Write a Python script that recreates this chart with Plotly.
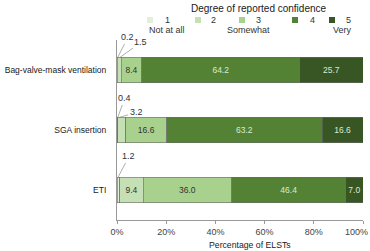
import plotly.graph_objects as go

categories = ["ETI", "SGA insertion", "Bag-valve-mask ventilation"]
levels = ["1", "2", "3", "4", "5"]
level_desc = ["Not at all", "", "Somewhat", "", "Very"]
# values per level, order matches categories (ETI, SGA, BVM)
lvl1 = [1.2, 0.4, 0.2]
lvl2 = [9.4, 3.2, 1.5]
lvl3 = [36.0, 16.6, 8.4]
lvl4 = [46.4, 63.2, 64.2]
lvl5 = [7.0, 16.6, 25.7]
series = [lvl1, lvl2, lvl3, lvl4, lvl5]
x_ticks = [0, 20, 40, 60, 80, 100]
x_ticklabels = ["0%", "20%", "40%", "60%", "80%", ""]
last_ticklabel = "100%"

colors = ["#e2efda", "#c5e0b4", "#a9d18e", "#548235", "#375623"]
text_colors = ["#333333", "#333333", "#333333", "#d9ead0", "#d9ead0"]
FONT = "Arial"

W, H = 370, 251
ML, MR, MT, MB = 117, 7, 40, 31
PW, PH = W - ML - MR, H - MT - MB

def px(xp):
    return (xp - ML) / PW

def py(yp):
    return (H - MB - yp) / PH

fig = go.Figure()
ypos = list(range(len(categories)))
for i, vals in enumerate(series):
    txt = [f"{v:.1f}" if v >= 5 else "" for v in vals]
    fig.add_trace(go.Bar(
        x=vals, y=ypos, orientation="h", width=0.42,
        marker=dict(color=colors[i], line=dict(color="#6b6b6b", width=0.6)),
        text=txt, textposition="inside", insidetextanchor="middle",
        textangle=0, constraintext="none",
        textfont=dict(family=FONT, size=8.5, color=text_colors[i]),
        showlegend=False, name=levels[i], hoverinfo="skip",
    ))

annotations = []
# small-value callouts: (category index, level list, label, x anchor, offsets)
small = [
    (2, lvl1, "0.2", 0.3, 10, -20),
    (2, lvl2, "1.5", 1.2, 21, -15),
    (1, lvl1, "0.4", 0.3, 7, -19),
    (1, lvl2, "3.2", 0.9, 17, -5),
    (0, lvl1, "1.2", 0.4, 11, -21),
]
for ci, arr, lab, xv, ax, ay in small:
    annotations.append(dict(
        x=xv, y=ci + 0.21, xref="x", yref="y", text=lab,
        showarrow=True, arrowhead=0, arrowwidth=0.6, arrowcolor="#777777",
        ax=ax, ay=ay, standoff=0,
        font=dict(family=FONT, size=9, color="#333333"),
    ))

# legend title
annotations.append(dict(x=px(259), y=py(9), xref="paper", yref="paper",
                        text="Degree of reported confidence", showarrow=False,
                        font=dict(family=FONT, size=10, color="#1a1a1a"),
                        xanchor="center", yanchor="middle"))
shapes = []
sq_x = [150, 198, 242, 295, 332]
lab_x = [167, 213, 258, 312, 348]
desc_x = [167, None, 248, None, 342]
for i in range(5):
    shapes.append(dict(type="rect", xref="paper", yref="paper",
                       x0=px(sq_x[i] - 3), x1=px(sq_x[i] + 3),
                       y0=py(23), y1=py(17), fillcolor=colors[i],
                       line=dict(width=0)))
    annotations.append(dict(x=px(lab_x[i]), y=py(20), xref="paper", yref="paper",
                            text=levels[i], showarrow=False,
                            font=dict(family=FONT, size=9, color="#333333"),
                            xanchor="center", yanchor="middle"))
    if level_desc[i]:
        annotations.append(dict(x=px(desc_x[i]), y=py(30), xref="paper", yref="paper",
                                text=level_desc[i], showarrow=False,
                                font=dict(family=FONT, size=9, color="#333333"),
                                xanchor="center", yanchor="middle"))

# last tick label kept inside the page
annotations.append(dict(x=1, y=0, xref="paper", yref="paper", xshift=MR,
                        yshift=-5, text=last_ticklabel, showarrow=False,
                        font=dict(family=FONT, size=9, color="#444444"),
                        xanchor="right", yanchor="top"))

# x-axis title
annotations.append(dict(x=px(250), y=py(245), xref="paper", yref="paper",
                        text="Percentage of ELSTs", showarrow=False,
                        font=dict(family=FONT, size=8.7, color="#1a1a1a"),
                        xanchor="center", yanchor="middle"))

fig.update_layout(
    barmode="stack", width=W, height=H,
    margin=dict(l=ML, r=MR, t=MT, b=MB, pad=0, autoexpand=False),
    plot_bgcolor="white", paper_bgcolor="white",
    annotations=annotations, shapes=shapes,
    font=dict(family=FONT, size=9, color="#333333"),
    xaxis=dict(range=[0, 100], tickvals=x_ticks, ticktext=x_ticklabels,
               showgrid=False, zeroline=False, showline=True, automargin=False,
               linecolor="#999999", linewidth=1, ticks="outside",
               ticklen=3, tickcolor="#999999", ticklabeloverflow="allow",
               tickfont=dict(family=FONT, size=9, color="#444444")),
    yaxis=dict(range=[-0.5, 2.5], tickvals=ypos, ticktext=categories,
               showgrid=False, zeroline=False, showline=True, automargin=False,
               linecolor="#999999", linewidth=1, ticks="", ticklabelstandoff=8,
               tickfont=dict(family=FONT, size=8.5, color="#1a1a1a")),
)

fig.write_html("out.html")
